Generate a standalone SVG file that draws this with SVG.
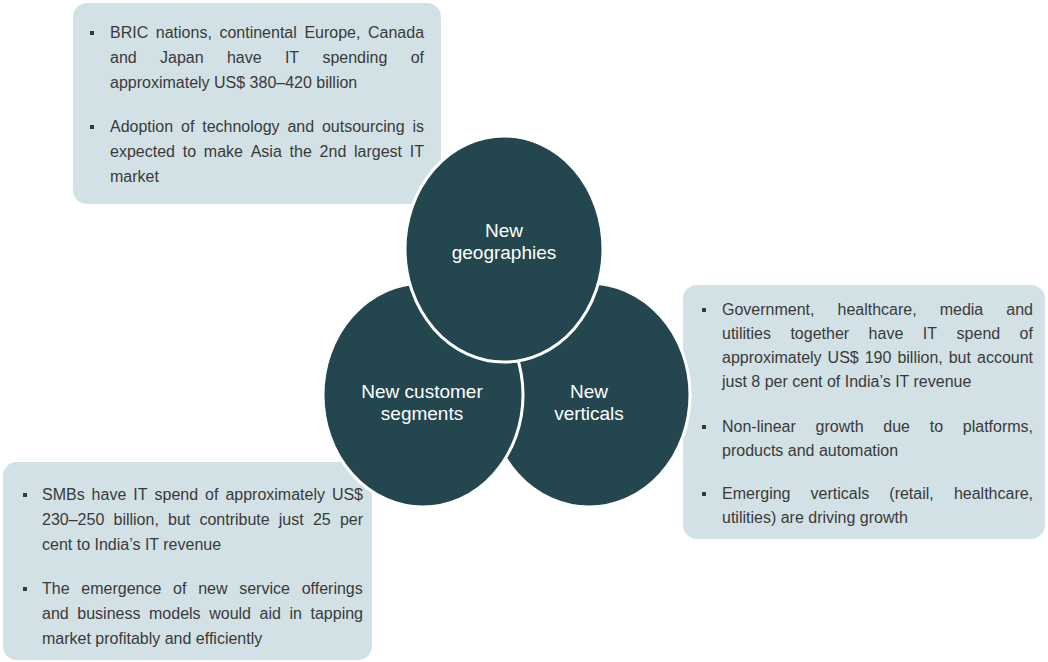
<svg xmlns="http://www.w3.org/2000/svg" width="1048" height="662" viewBox="0 0 1048 662">
<style>
.box{fill:#d2e1e5;}
.t{font-family:"Liberation Sans",Arial,sans-serif;font-size:16px;fill:#3a3a3a;}
.c{fill:#24464f;stroke:#ffffff;stroke-width:3;}
.ct{font-family:"Liberation Sans",Arial,sans-serif;font-size:19px;fill:#ffffff;text-anchor:middle;}
.b{fill:#3a3a3a;}
</style>
<rect width="1048" height="662" fill="#ffffff"/>

<g id="box-geographies">
<rect class="box" x="73" y="3" width="368" height="201" rx="14"/>
<rect class="b" x="90" y="31" width="4" height="4"/>
<text class="t" y="38"><tspan x="110">BRIC</tspan><tspan x="155.8">nations,</tspan><tspan x="219.4">continental</tspan><tspan x="304.4">Europe,</tspan><tspan x="368">Canada</tspan></text>
<text class="t" y="63"><tspan x="110">and</tspan><tspan x="160">Japan</tspan><tspan x="226.9">have</tspan><tspan x="284.9">IT</tspan><tspan x="322.4">spending</tspan><tspan x="410.7">of</tspan></text>
<text class="t" x="110" y="88">approximately US$ 380–420 billion</text>
<rect class="b" x="90" y="125" width="4" height="4"/>
<text class="t" y="132"><tspan x="110">Adoption</tspan><tspan x="181">of</tspan><tspan x="202.2">technology</tspan><tspan x="287.4">and</tspan><tspan x="321.9">outsourcing</tspan><tspan x="412.5">is</tspan></text>
<text class="t" y="157"><tspan x="110">expected</tspan><tspan x="182.7">to</tspan><tspan x="203.8">make</tspan><tspan x="250.7">Asia</tspan><tspan x="289.6">the</tspan><tspan x="319.6">2nd</tspan><tspan x="354">largest</tspan><tspan x="409.8">IT</tspan></text>
<text class="t" x="110" y="182">market</text>
</g>

<g id="box-verticals">
<rect class="box" x="683" y="285" width="362" height="254" rx="14"/>
<rect class="b" x="702" y="308" width="4" height="4"/>
<text class="t" y="315"><tspan x="722">Government,</tspan><tspan x="837.5">healthcare,</tspan><tspan x="939.7">media</tspan><tspan x="1006.3">and</tspan></text>
<text class="t" y="339"><tspan x="722">utilities</tspan><tspan x="790.4">together</tspan><tspan x="868.6">have</tspan><tspan x="922.8">IT</tspan><tspan x="956.6">spend</tspan><tspan x="1019.6">of</tspan></text>
<text class="t" y="363"><tspan x="722">approximately</tspan><tspan x="827.6">US$</tspan><tspan x="864.7">190</tspan><tspan x="897.4">billion,</tspan><tspan x="948.7">but</tspan><tspan x="977">account</tspan></text>
<text class="t" x="722" y="387">just 8 per cent of India’s IT revenue</text>
<rect class="b" x="702" y="425" width="4" height="4"/>
<text class="t" y="432"><tspan x="722">Non-linear</tspan><tspan x="815.5">growth</tspan><tspan x="883.3">due</tspan><tspan x="929.7">to</tspan><tspan x="962.8">platforms,</tspan></text>
<text class="t" x="722" y="456">products and automation</text>
<rect class="b" x="702" y="492" width="4" height="4"/>
<text class="t" y="499"><tspan x="722">Emerging</tspan><tspan x="810.6">verticals</tspan><tspan x="889.3">(retail,</tspan><tspan x="953.9">healthcare,</tspan></text>
<text class="t" x="722" y="523">utilities) are driving growth</text>
</g>

<g id="box-segments">
<rect class="box" x="3" y="462" width="369" height="198" rx="14"/>
<rect class="b" x="23" y="493" width="4" height="4"/>
<text class="t" y="500"><tspan x="42">SMBs</tspan><tspan x="91.6">have</tspan><tspan x="133.3">IT</tspan><tspan x="154.5">spend</tspan><tspan x="205">of</tspan><tspan x="225.4">approximately</tspan><tspan x="331.9">US$</tspan></text>
<text class="t" y="525"><tspan x="42">230–250</tspan><tspan x="113.5">billion,</tspan><tspan x="168">but</tspan><tspan x="199.4">contribute</tspan><tspan x="278.8">just</tspan><tspan x="312.9">25</tspan><tspan x="339.9">per</tspan></text>
<text class="t" x="42" y="550">cent to India’s IT revenue</text>
<rect class="b" x="23" y="587" width="4" height="4"/>
<text class="t" y="594"><tspan x="42">The</tspan><tspan x="81.3">emergence</tspan><tspan x="173.1">of</tspan><tspan x="198.2">new</tspan><tspan x="239.2">service</tspan><tspan x="301.7">offerings</tspan></text>
<text class="t" y="619"><tspan x="42">and</tspan><tspan x="77.3">business</tspan><tspan x="149">models</tspan><tspan x="209.2">would</tspan><tspan x="259.6">aid</tspan><tspan x="289.5">in</tspan><tspan x="310.5">tapping</tspan></text>
<text class="t" x="42" y="644">market profitably and efficiently</text>
</g>

<g id="node-new-verticals">
<ellipse class="c" cx="589" cy="395" rx="101" ry="112"/>
<text class="ct" x="589" y="398">New</text>
<text class="ct" x="589" y="420">verticals</text>
</g>

<g id="node-new-customer-segments">
<ellipse class="c" cx="423" cy="395" rx="100" ry="112"/>
<text class="ct" x="422" y="398">New customer</text>
<text class="ct" x="422" y="420">segments</text>
</g>

<g id="node-new-geographies">
<ellipse class="c" cx="504" cy="249" rx="99" ry="113"/>
<text class="ct" x="504" y="237">New</text>
<text class="ct" x="504" y="259">geographies</text>
</g>
</svg>
